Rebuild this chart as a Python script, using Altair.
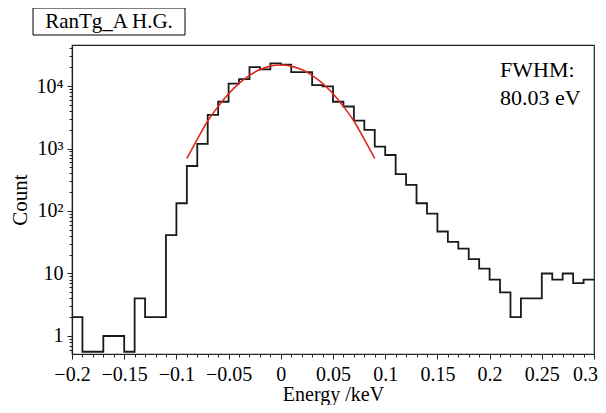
import altair as alt
import pandas as pd

# ---- data ----
bin_left = [-0.20, -0.19, -0.18, -0.17, -0.16, -0.15, -0.14, -0.13, -0.12, -0.11,
            -0.10, -0.09, -0.08, -0.07, -0.06, -0.05, -0.04, -0.03, -0.02, -0.01,
            0.00, 0.01, 0.02, 0.03, 0.04, 0.05, 0.06, 0.07, 0.08, 0.09,
            0.10, 0.11, 0.12, 0.13, 0.14, 0.15, 0.16, 0.17, 0.18, 0.19,
            0.20, 0.21, 0.22, 0.23, 0.24, 0.25, 0.26, 0.27, 0.28, 0.29]
bin_right_end = 0.30
counts = [2, 0, 0, 1, 1, 0, 4, 2, 2, 41,
          133, 525, 1190, 3440, 5600, 10900, 12900, 20000, 18500, 23000,
          22000, 16700, 16700, 10300, 9900, 5600, 4700, 2790, 1980, 1070,
          787, 390, 261, 133, 91, 47, 32, 25, 17, 12,
          8, 5, 2, 4, 4, 10, 8, 10, 7, 8]
empty_floor = 0.56

fit_x = [-0.09, -0.08, -0.07, -0.06, -0.05, -0.04, -0.03, -0.02, -0.01, 0.0,
         0.01, 0.02, 0.03, 0.04, 0.05, 0.06, 0.07, 0.08, 0.09]
fit_y = [690, 1400, 2750, 4700, 7500, 11000, 14800, 18300, 20800, 21700,
         20800, 18300, 14800, 11000, 7500, 4700, 2750, 1400, 690]

x_major = [-0.2, -0.15, -0.1, -0.05, 0, 0.05, 0.1, 0.15, 0.2, 0.25, 0.3]
y_major = [1, 10, 100, 1000, 10000]
y_labels = {1: "1", 10: "10", 100: "10²", 1000: "10³", 10000: "10⁴"}

panel_label = "RanTg_A H.G."
fwhm_lines = ["FWHM:", "80.03 eV"]

# ---- tables ----
hist = pd.DataFrame({
    "x": bin_left + [bin_right_end],
    "count": [max(c, empty_floor) for c in counts] + [max(counts[-1], empty_floor)],
})
fit = pd.DataFrame({"x": fit_x, "y": fit_y})

x_minor = [round(-0.2 + 0.01 * i, 2) for i in range(51)]
x_minor = [v for v in x_minor if all(abs(v - m) > 1e-9 for m in x_major)]
y_minor = []
for d in [0.1, 1, 10, 100, 1000, 10000]:
    for k in range(2, 10):
        v = k * d
        if 0.515 <= v <= 45300:
            y_minor.append(v)

FONT = "Liberation Serif"
xscale = alt.Scale(domain=[-0.2, 0.3], nice=False, zero=False)
yscale = alt.Scale(type="log", domain=[0.515, 45300], nice=False)

y_label_expr = " : ".join(
    [f"datum.value == {k} ? '{v}'" for k, v in y_labels.items()]) + " : ''"

hist_layer = alt.Chart(hist).mark_line(
    interpolate="step-after", color="#1a1a1a", strokeWidth=1.8
).encode(
    x=alt.X("x:Q", scale=xscale,
            axis=alt.Axis(orient="bottom", values=x_major, format="~g",
                          tickSize=5, labelPadding=5, title="Energy /keV",
                          titlePadding=0, titleFontSize=20,
                          labelOffset={"condition": {"test": "datum.value > 0.29", "value": -9},
                                       "value": 0})),
    y=alt.Y("count:Q", scale=yscale,
            axis=alt.Axis(orient="left", values=y_major, labelExpr=y_label_expr,
                          tickSize=5, labelPadding=4, title="Count",
                          titlePadding=6)),
)

fit_layer = alt.Chart(fit).mark_line(
    interpolate="monotone", color="#e0281e", strokeWidth=1.6
).encode(
    x=alt.X("x:Q", scale=xscale,
            axis=alt.Axis(orient="bottom", values=x_minor, labels=False,
                          tickSize=3, domain=False, title=None)),
    y=alt.Y("y:Q", scale=yscale,
            axis=alt.Axis(orient="left", values=y_minor, labels=False,
                          tickSize=3, domain=False, title=None)),
)

box = alt.Chart(pd.DataFrame({"t": [panel_label]})).mark_rect(
    fill="white", stroke="black", strokeWidth=1
).encode(x=alt.value(-39), x2=alt.value(113), y=alt.value(-37), y2=alt.value(-10))

box_text = alt.Chart(pd.DataFrame({"t": [panel_label]})).mark_text(
    font=FONT, fontSize=21, align="center", baseline="middle", color="black"
).encode(x=alt.value(37), y=alt.value(-23), text="t:N")

fwhm1 = alt.Chart(pd.DataFrame({"t": [fwhm_lines[0]]})).mark_text(
    font=FONT, fontSize=22, align="left", baseline="alphabetic", color="black"
).encode(x=alt.value(428), y=alt.value(32), text="t:N")

fwhm2 = alt.Chart(pd.DataFrame({"t": [fwhm_lines[1]]})).mark_text(
    font=FONT, fontSize=22, align="left", baseline="alphabetic", color="black"
).encode(x=alt.value(428), y=alt.value(60), text="t:N")

chart = alt.layer(hist_layer, fit_layer, box, box_text, fwhm1, fwhm2).resolve_axis(
    x="independent", y="independent"
).properties(
    width=522, height=309,
    autosize=alt.AutoSizeParams(type="none"),
    padding={"left": 64, "top": 37, "right": 4, "bottom": 51},
    background="white",
).configure_view(
    stroke="#222222", strokeWidth=1.2
).configure_axis(
    grid=False, domainColor="#222222", tickColor="#222222", domainWidth=1.2,
    labelFont=FONT, labelFontSize=20, labelColor="black",
    titleFont=FONT, titleFontSize=21, titleFontWeight="normal", titleColor="black",
    labelFlush=False, labelOverlap=False,
)

chart.save("out.html", embed_options={"renderer": "svg", "actions": False})
